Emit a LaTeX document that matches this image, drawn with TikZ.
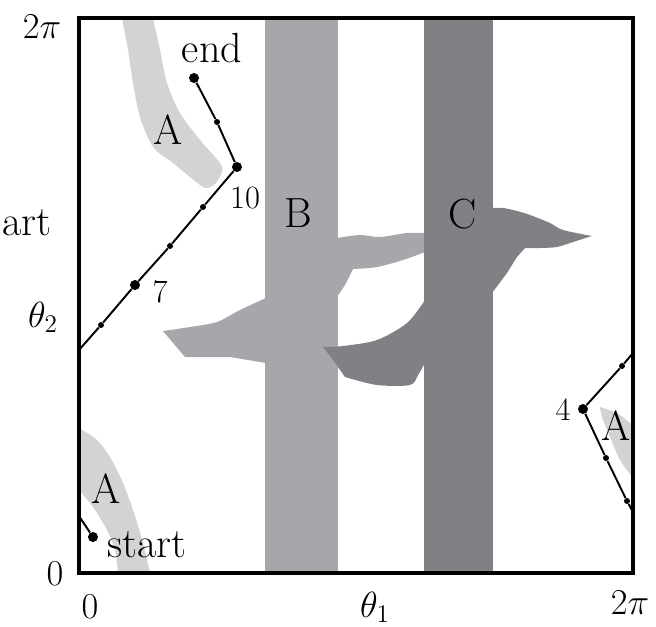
\documentclass[tikz,border=0pt]{standalone}
\usepackage{amsmath,amssymb}
\usepackage{xcolor}
\usepackage{tikz}
\usetikzlibrary{positioning, calc}
\definecolor{regA}{RGB}{210,211,213}
\definecolor{regB}{RGB}{166,167,171}
\definecolor{regC}{RGB}{128,129,133}
\tikzstyle{boxframe} = [draw=black, line width=1.8pt]
\tikzstyle{traj}     = [draw=black, line width=1.1pt]
\tikzstyle{keypt}    = [circle, fill=black, inner sep=0pt, minimum size=0.2cm]
\tikzstyle{steppt}   = [circle, fill=black, inner sep=0pt, minimum size=0.12cm]
\tikzstyle{lbl}      = [anchor=base, inner sep=0pt,
                        font=\fontsize{24}{28}\selectfont]
\tikzstyle{axlbl}    = [anchor=base, inner sep=0pt,
                        font=\fontsize{22}{26}\selectfont]
\tikzstyle{numlbl}   = [anchor=base, inner sep=0pt,
                        font=\fontsize{18.5}{22}\selectfont]

\begin{document}
\begin{tikzpicture}[x=0.02cm, y=-0.02cm]

  \useasboundingbox (0,0) rectangle (656,626);

  %% ── Obstacle region A (wraps round the torus) ─────────────────
  \fill[regA] plot[smooth] coordinates {(122,18) (128,50) (133,83) (140,117)
      (153,147) (173,163) (200,185) (207,188) (215,184) (222,172) (220,163)
      (200,140) (180,113) (167,83) (160,50) (153,18)} -- cycle;
  \fill[regA] (79,428) -- plot[smooth] coordinates {(79,428) (97,440) (110,457)
      (123,483) (133,510) (143,543) (150,573)} -- (118,573)
      -- plot[smooth] coordinates {(118,573) (115,550) (107,530) (93,507)
      (79,490)} -- cycle;
  \fill[regA] plot[smooth] coordinates {(600,407) (617,413) (630,423) (633,426)}
      -- (633,478) -- plot[smooth] coordinates {(633,478) (620,460) (610,437)
      (602,417) (600,407)} -- cycle;

  %% ── Obstacle region B ─────────────────────────────────────────
  \fill[regB] (265,18) rectangle (338,573);
  \fill[regB] (266,298) -- plot[smooth] coordinates {(266,298) (240,310)
      (217,322) (190,327) (163,331)} -- (185,357) -- (230,357) -- (266,363)
      -- cycle;
  \fill[regB] (337,238) -- plot[smooth] coordinates {(337,238) (360,235)
      (380,237) (407,233) (425,233)} -- (425,252)
      -- plot[smooth] coordinates {(425,252) (403,260) (377,267) (353,269)}
      -- (345,285) -- (337,297) -- cycle;

  %% ── Obstacle region C ─────────────────────────────────────────
  \fill[regC] (424,18) rectangle (493,573);
  \fill[regC] (492,208) -- plot[smooth] coordinates {(492,208) (503,208)
      (517,211) (530,215) (550,223) (563,230) (592,236)}
      -- plot[smooth] coordinates {(592,236) (573,242) (557,247) (540,248)
      (525,248)} -- (517,257) -- (507,273) -- (492,293) -- cycle;
  \fill[regC] (425,300) -- plot[smooth] coordinates {(425,300) (407,323)
      (377,340) (343,346) (323,347)} -- (333,360) -- (345,377)
      -- plot[smooth] coordinates {(345,377) (377,385) (410,385) (418,375)
      (425,363)} -- cycle;

  %% ── Path points ───────────────────────────────────────────────
  \node[keypt]  (p1)  at (93,537)  {};
  \node[steppt] (p2)  at (627,501) {};
  \node[steppt] (p3)  at (606,458) {};
  \node[keypt]  (p4)  at (583,409) {};
  \node[steppt] (p5)  at (622,366) {};
  \node[steppt] (p6)  at (101,325) {};
  \node[keypt]  (p7)  at (135,285) {};
  \node[steppt] (p8)  at (170,246) {};
  \node[steppt] (p9)  at (203,207) {};
  \node[keypt]  (p10) at (237,167) {};
  \node[steppt] (p11) at (217,122) {};
  \node[keypt]  (p12) at (194,78)  {};

  %% wrap-around points on the frame
  \coordinate (wL1) at (79,516);
  \coordinate (wR1) at (633,512);
  \coordinate (wR2) at (633,353);
  \coordinate (wL2) at (79,350);

  \draw[traj] (p1) -- (wL1);
  \draw[traj] (wR1) -- (p2) -- (p3) -- (p4) -- (p5) -- (wR2);
  \draw[traj] (wL2) -- (p6) -- (p7) -- (p8) -- (p9) -- (p10) -- (p11) -- (p12);

  %% ── Labels ────────────────────────────────────────────────────
  \node[lbl] (lend)   at (212,62)  {end};
  \node[lbl] (lstart) at (147,557) {start};
  \node[lbl] (lart)   at (27,235)  {art};
  \node[numlbl] (l4)  at (563,420) {4};
  \node[numlbl] (l7)  at (160,302) {7};
  \node[numlbl] (l10) at (245,208) {10};

  \node[lbl] (lA1) at (168,144) {A};
  \node[lbl] (lA2) at (106,503) {A};
  \node[lbl] (lA3) at (616,440) {A};
  \node[lbl] (lB)  at (298,227) {B};
  \node[lbl] (lC)  at (463,228) {C};

  %% axes
  \node[axlbl] (ytop) at (42,38)   {$2\pi$};
  \node[axlbl] (ymid) at (43,327)  {$\theta_2$};
  \node[axlbl] (ybot) at (55,585)  {$0$};
  \node[axlbl] (xbot) at (90,618)  {$0$};
  \node[axlbl] (xmid) at (375,617) {$\theta_1$};
  \node[axlbl] (xtop) at (630,614) {$2\pi$};

  \draw[boxframe] (79,18) rectangle (633,573);

\end{tikzpicture}
\end{document}
